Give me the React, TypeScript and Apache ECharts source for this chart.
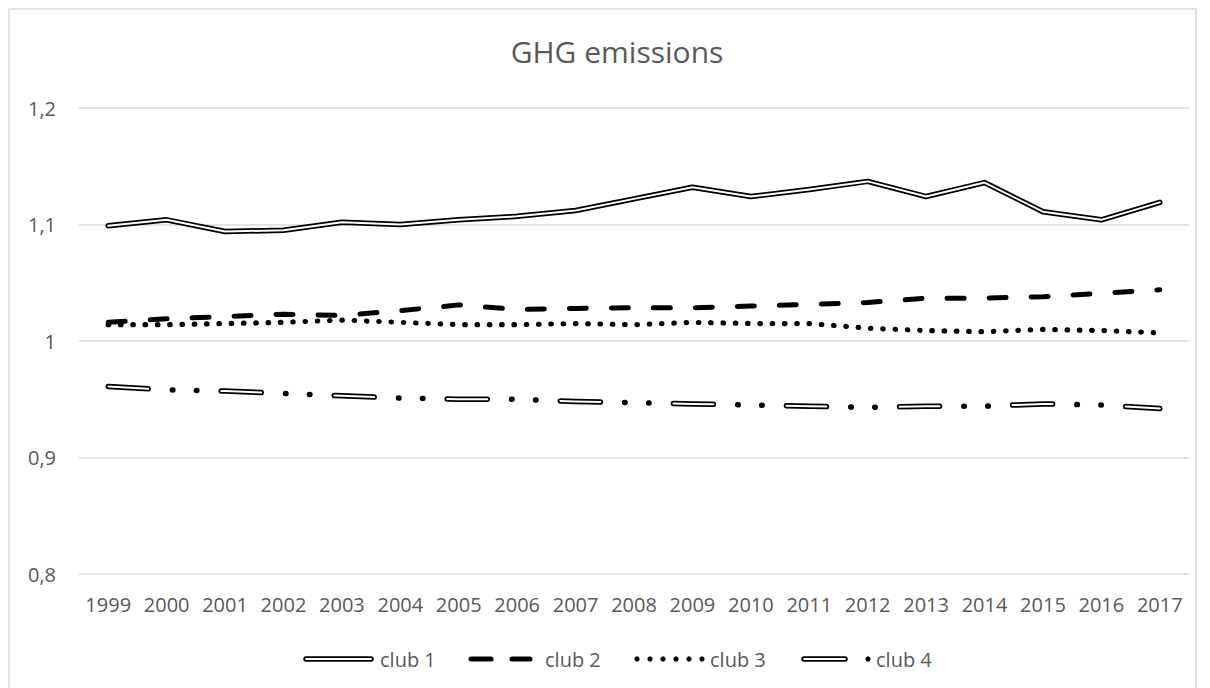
import React, { useEffect, useRef } from "react";
import * as echarts from "echarts";

const years = ["1999", "2000", "2001", "2002", "2003", "2004", "2005", "2006", "2007", "2008", "2009", "2010", "2011", "2012", "2013", "2014", "2015", "2016", "2017"];
const club1 = [1.099, 1.104, 1.094, 1.095, 1.102, 1.100, 1.104, 1.107, 1.112, 1.122, 1.132, 1.124, 1.130, 1.137, 1.124, 1.136, 1.111, 1.104, 1.119];
const club2 = [1.016, 1.019, 1.021, 1.023, 1.022, 1.026, 1.031, 1.027, 1.028, 1.0285, 1.0285, 1.030, 1.0315, 1.033, 1.0368, 1.0368, 1.038, 1.041, 1.044];
const club3 = [1.014, 1.014, 1.015, 1.016, 1.018, 1.016, 1.014, 1.014, 1.015, 1.014, 1.016, 1.015, 1.015, 1.011, 1.009, 1.008, 1.010, 1.009, 1.007];
const club4 = [0.961, 0.958, 0.957, 0.955, 0.953, 0.951, 0.950, 0.950, 0.948, 0.947, 0.946, 0.945, 0.944, 0.943, 0.944, 0.944, 0.946, 0.945, 0.942];
const seriesNames = ["club 1", "club 2", "club 3", "club 4"];

const FONT = "Open Sans";
const TXT = "#595959";

export default function App() {
  const ref = useRef<HTMLDivElement>(null);
  useEffect(() => {
    if (!ref.current) return;
    const chart = echarts.init(ref.current, null, { renderer: "svg" });
    const ly = 659;
    const legendGraphics: any[] = [
      // club 1 double line
      { type: "line", shape: { x1: 306, y1: ly, x2: 371, y2: ly }, style: { stroke: "#000", lineWidth: 5.5, lineCap: "round" } },
      { type: "line", shape: { x1: 306, y1: ly, x2: 371, y2: ly }, style: { stroke: "#fff", lineWidth: 2, lineCap: "round" } },
      { type: "text", x: 380, y: ly, style: { text: seriesNames[0], fontFamily: FONT, fontSize: 20, fill: TXT, textVerticalAlign: "middle", textAlign: "left" } },
      // club 2 dashes
      { type: "line", shape: { x1: 471, y1: ly, x2: 491, y2: ly }, style: { stroke: "#000", lineWidth: 5, lineCap: "round" } },
      { type: "line", shape: { x1: 512, y1: ly, x2: 530, y2: ly }, style: { stroke: "#000", lineWidth: 5, lineCap: "round" } },
      { type: "text", x: 545, y: ly, style: { text: seriesNames[1], fontFamily: FONT, fontSize: 20, fill: TXT, textVerticalAlign: "middle", textAlign: "left" } },
      // club 3 dots
      ...[637, 650, 663, 676, 689, 702].map((cx) => ({ type: "circle", shape: { cx, cy: ly, r: 2.6 }, style: { fill: "#000" } })),
      { type: "text", x: 710, y: ly, style: { text: seriesNames[2], fontFamily: FONT, fontSize: 20, fill: TXT, textVerticalAlign: "middle", textAlign: "left" } },
      // club 4 double dash + dot
      { type: "line", shape: { x1: 804, y1: ly, x2: 845, y2: ly }, style: { stroke: "#000", lineWidth: 5.5, lineCap: "round" } },
      { type: "line", shape: { x1: 804, y1: ly, x2: 845, y2: ly }, style: { stroke: "#fff", lineWidth: 2, lineCap: "round" } },
      { type: "circle", shape: { cx: 868, cy: ly, r: 2.6 }, style: { fill: "#000" } },
      { type: "text", x: 876, y: ly, style: { text: seriesNames[3], fontFamily: FONT, fontSize: 20, fill: TXT, textVerticalAlign: "middle", textAlign: "left" } },
    ];
    const option: any = {
      animation: false,
      backgroundColor: "#fff",
      title: {
        text: "GHG emissions",
        left: 612,
        textAlign: "center",
        top: 31,
        textStyle: { fontFamily: FONT, fontSize: 30, fontWeight: "normal", color: TXT },
      },
      grid: { left: 79, right: 21, top: 108, bottom: 114, containLabel: false },
      xAxis: {
        type: "category",
        data: years,
        boundaryGap: true,
        axisLine: { show: false },
        axisTick: { show: false },
        splitLine: { show: false },
        axisLabel: { interval: 0, margin: 20, fontFamily: FONT, fontSize: 20, color: TXT },
      },
      yAxis: {
        type: "value",
        min: 0.8,
        max: 1.2,
        interval: 0.1,
        axisLine: { show: false },
        axisTick: { show: false },
        splitLine: { lineStyle: { color: "#d9d9d9", width: 1.5 } },
        axisLabel: {
          margin: 23,
          fontFamily: FONT,
          fontSize: 20,
          color: TXT,
          formatter: (v: number) => String(Math.round(v * 10) / 10).replace(".", ","),
        },
      },
      graphic: [
        { type: "rect", shape: { x: 9, y: 9, width: 1187, height: 700 }, style: { fill: "none", stroke: "#d9d9d9", lineWidth: 1.5 }, z: -1 },
        ...legendGraphics,
      ],
      series: [
        { name: seriesNames[0], type: "line", data: club1, symbol: "none", silent: true, z: 3, lineStyle: { color: "#000", width: 5.5, cap: "round", join: "round" } },
        { name: seriesNames[0] + " inner", type: "line", data: club1, symbol: "none", silent: true, z: 4, lineStyle: { color: "#fff", width: 2, cap: "round", join: "round" } },
        { name: seriesNames[1], type: "line", data: club2, symbol: "none", silent: true, z: 3, lineStyle: { color: "#000", width: 5, type: [17, 25], cap: "round", join: "round" } },
        { name: seriesNames[2], type: "line", data: club3, symbol: "none", silent: true, z: 3, lineStyle: { color: "#000", width: 5.2, type: [0.5, 11.8], cap: "round", join: "round" } },
        { name: seriesNames[3], type: "line", data: club4, symbol: "none", silent: true, z: 3, lineStyle: { color: "#000", width: 5.5, type: [40, 24.3, 0.5, 23.5, 0.5, 24.3], cap: "round", join: "round" } },
        { name: seriesNames[3] + " inner", type: "line", data: club4, symbol: "none", silent: true, z: 4, lineStyle: { color: "#fff", width: 2, type: [40, 73.1], cap: "round", join: "round" } },
      ],
    };
    chart.setOption(option);
    return () => chart.dispose();
  }, []);
  return <div ref={ref} style={{ position: "fixed", left: 0, top: 0, width: 1210, height: 688 }} />;
}
